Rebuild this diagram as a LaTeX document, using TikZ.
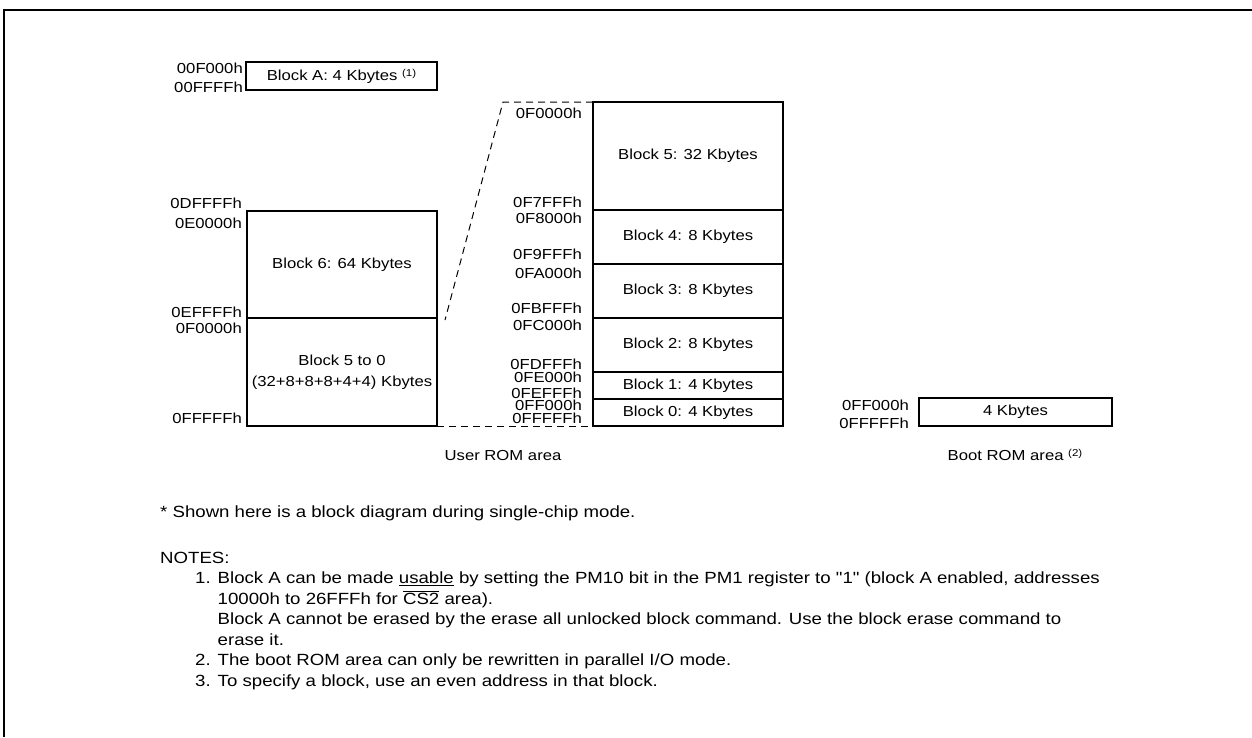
\documentclass[tikz,border=0pt]{standalone}
\usepackage{fontspec}
\setmainfont{Liberation Sans}[FakeStretch=1.15, Ligatures=TeXOff]
\usetikzlibrary{positioning}
\newcommand{\notemark}[1]{\raisebox{4pt}{\fontsize{10}{10}\selectfont(#1)}}
\begin{document}
\begin{tikzpicture}[
  x=1pt, y=1pt,
  font=\fontsize{14.5}{21}\selectfont,
  memblk/.style={draw, line width=1.5pt, inner sep=0pt, outer sep=0pt, anchor=north west, align=center},
  addr/.style={anchor=east, inner sep=0pt},
  zoomline/.style={dash pattern=on 7pt off 5pt, line width=1pt},
  notetext/.style={anchor=west, inner sep=0pt, font=\fontsize{16.2}{20.5}\selectfont},
  frameline/.style={line width=2pt}
]
\useasboundingbox (0,0) rectangle (1252,-737);
% outer frame
\draw[frameline] (4,-737) -- (4,-10) -- (1252,-10);

% block A
\node[memblk, minimum width=191pt, minimum height=28pt] (blkA) at (246,-62) {Block A: 4 Kbytes \notemark{1}};
\node[addr] (aA1) at ([shift={(-3,-6)}]blkA.north west) {00F000h};
\node[addr] (aA2) at ([shift={(-3,3)}]blkA.south west) {00FFFFh};

% user ROM, left
\node[memblk, minimum width=190pt, minimum height=107pt] (b6) at (247,-211) {Block 6: 64 Kbytes};
\node[memblk, minimum width=190pt, minimum height=108pt, below=0pt of b6] (b50) {Block 5 to 0\\(32+8+8+8+4+4) Kbytes};
\node[addr] (l1) at ([shift={(-5,8)}]b6.north west) {0DFFFFh};
\node[addr] (l2) at ([shift={(-5,-12)}]b6.north west) {0E0000h};
\node[addr] (l3) at ([shift={(-5,6)}]b6.south west) {0EFFFFh};
\node[addr] (l4) at ([shift={(-5,-10)}]b50.north west) {0F0000h};
\node[addr] (l5) at ([shift={(-5,8)}]b50.south west) {0FFFFFh};

% user ROM, right
\node[memblk, minimum width=190pt, minimum height=108pt] (b5) at (593,-102) {Block 5: 32 Kbytes};
\node[memblk, minimum width=190pt, minimum height=54pt, below=0pt of b5] (b4) {Block 4: 8 Kbytes};
\node[memblk, minimum width=190pt, minimum height=54pt, below=0pt of b4] (b3) {Block 3: 8 Kbytes};
\node[memblk, minimum width=190pt, minimum height=54pt, below=0pt of b3] (b2) {Block 2: 8 Kbytes};
\node[memblk, minimum width=190pt, minimum height=27pt, below=0pt of b2] (b1) {Block 1: 4 Kbytes};
\node[memblk, minimum width=190pt, minimum height=27pt, below=0pt of b1] (b0) {Block 0: 4 Kbytes};
\node[addr] (r1) at ([shift={(-11,-11)}]b5.north west) {0F0000h};
\node[addr] (r2) at ([shift={(-11,8)}]b5.south west) {0F7FFFh};
\node[addr] (r3) at ([shift={(-11,-8)}]b4.north west) {0F8000h};
\node[addr] (r4) at ([shift={(-11,10)}]b4.south west) {0F9FFFh};
\node[addr] (r5) at ([shift={(-11,-9)}]b3.north west) {0FA000h};
\node[addr] (r6) at ([shift={(-11,10)}]b3.south west) {0FBFFFh};
\node[addr] (r7) at ([shift={(-11,-7)}]b2.north west) {0FC000h};
\node[addr] (r8) at ([shift={(-11,8)}]b2.south west) {0FDFFFh};
\node[addr] (r9) at ([shift={(-11,-5)}]b1.north west) {0FE000h};
\node[addr] (r10) at ([shift={(-11,6)}]b1.south west) {0FEFFFh};
\node[addr] (r11) at ([shift={(-11,-6)}]b0.north west) {0FF000h};
\node[addr] (r12) at ([shift={(-11,8)}]b0.south west) {0FFFFFh};

% zoom lines
\coordinate (zt) at (503,-102);
\coordinate (zb) at ([shift={(8,-2)}]b6.south east);
\draw[zoomline] (b5.north west) -- (zt) -- (zb);
\draw[zoomline] (b50.south east) -- (b0.south west);

% boot ROM
\node[memblk, minimum width=193pt, minimum height=28pt] (boot) at (919,-398) {4 Kbytes};
\node[addr] (bt1) at ([shift={(-10,-7.5)}]boot.north west) {0FF000h};
\node[addr] (bt2) at ([shift={(-10,3)}]boot.south west) {0FFFFFh};

\node (userrom) at (503,-455) {User ROM area};
\node (bootrom) at (1015,-455) {Boot ROM area \notemark{2}};

% notes
\node[notetext] (star) at (160,-513) {* Shown here is a block diagram during single-chip mode.};
\node[notetext] (notes) at (160,-558) {NOTES:};
\node[notetext, anchor=north west] (notelist) at (195,-569) {%
  \begin{tabular}{@{}r@{\hspace{7pt}}l@{}}
  1. & Block A can be made \underline{usable} by setting the PM10 bit in the PM1 register to "1" (block A enabled, addresses\\
     & 10000h to 26FFFh for $\overline{\mbox{CS2}}$ area).\\
     & Block A cannot be erased by the erase all unlocked block command. Use the block erase command to\\
     & erase it.\\
  2. & The boot ROM area can only be rewritten in parallel I/O mode.\\
  3. & To specify a block, use an even address in that block.
  \end{tabular}};
\end{tikzpicture}
\end{document}
